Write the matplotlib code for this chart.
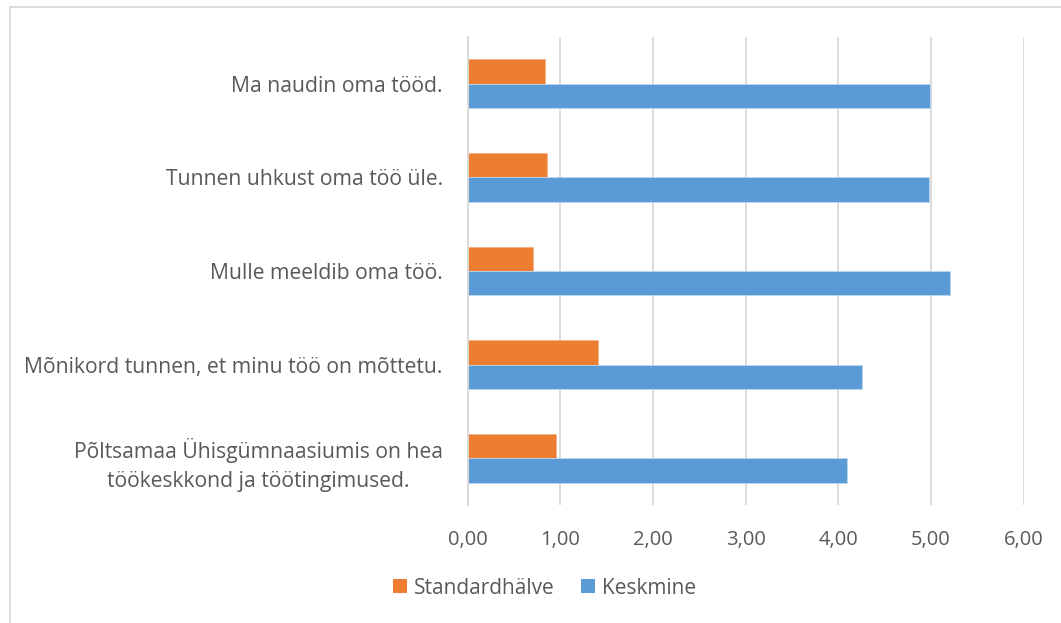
import matplotlib
matplotlib.use("Agg")
import matplotlib.pyplot as plt
from matplotlib.patches import Rectangle
from matplotlib.ticker import FuncFormatter, MultipleLocator

categories = [
    "Ma naudin oma tööd.",
    "Tunnen uhkust oma töö üle.",
    "Mulle meeldib oma töö.",
    "Mõnikord tunnen, et minu töö on mõttetu.",
    "Põltsamaa Ühisgümnaasiumis on hea\ntöökeskkond ja töötingimused.",
]
standardhalve = [0.83, 0.86, 0.71, 1.41, 0.95]
keskmine = [4.99, 4.98, 5.21, 4.26, 4.09]
series_names = ["Standardhälve", "Keskmine"]

ORANGE = "#ED7D31"
BLUE = "#5B9BD5"
GRID = "#D9D9D9"
TXT = "#595959"
FONT = "Open Sans"

plt.rcParams["font.family"] = [FONT, "DejaVu Sans"]

fig = plt.figure(figsize=(10.61, 6.23), dpi=100)
ax = fig.add_axes([467.7 / 1061, 1 - 505 / 623, (1023.5 - 467.7) / 1061, (505 - 37) / 623])

n = len(categories)
ys = list(range(n))
h = 0.26
ax.barh([y - h / 2 for y in ys], standardhalve, height=h, color=ORANGE, label=series_names[0],
        edgecolor="#F4B183", linewidth=0.6)
ax.barh([y + h / 2 for y in ys], keskmine, height=h, color=BLUE, label=series_names[1],
        edgecolor="#BDD7EE", linewidth=0.6)

ax.set_ylim(n - 0.5, -0.5)
ax.set_xlim(0, 6)
ax.xaxis.set_major_locator(MultipleLocator(1))
ax.xaxis.set_major_formatter(FuncFormatter(lambda v, p: f"{v:.2f}".replace(".", ",")))
ax.set_yticks(ys)
ax.set_yticklabels(categories, fontsize=15.2, color=TXT, linespacing=1.55)
ax.tick_params(axis="y", length=0, pad=18)
ax.tick_params(axis="x", length=0, pad=18, labelsize=14.5, labelcolor=TXT)
for lbl in ax.get_yticklabels():
    lbl.set_horizontalalignment("right")
    lbl.set_multialignment("center")

ax.grid(axis="x", color=GRID, linewidth=1.3)
ax.set_axisbelow(True)
for s in ["top", "right", "bottom"]:
    ax.spines[s].set_visible(False)
ax.spines["left"].set_color(GRID)
ax.spines["left"].set_linewidth(1.3)

handles, labels = ax.get_legend_handles_labels()
leg = fig.legend(handles, labels, loc="center", bbox_to_anchor=(544.5 / 1061, 1 - 588 / 623), ncol=2,
                 frameon=False, fontsize=15, handlelength=0.67, handleheight=0.67,
                 handletextpad=0.3, columnspacing=1.3, labelcolor=TXT, borderaxespad=0, borderpad=0)
for hd in leg.legend_handles:
    hd.set_edgecolor("none")

fig.add_artist(Rectangle((10 / 1061, -0.1), 1.2, 1.1 - 7 / 623 + 0.0, transform=fig.transFigure,
                         fill=False, edgecolor=GRID, linewidth=1.3))

fig.savefig("out.png", dpi=100, facecolor="white")
